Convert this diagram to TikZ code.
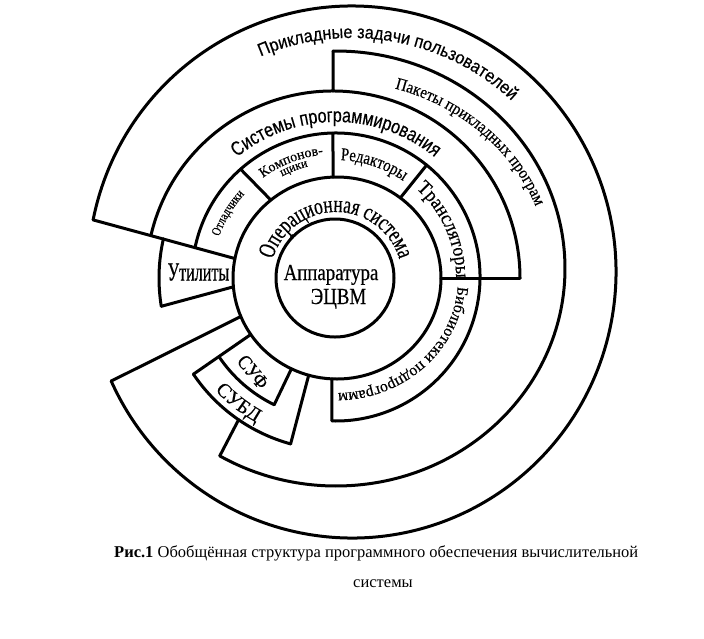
\documentclass[tikz,border=0pt]{standalone}
\usepackage{fontspec}
\setmainfont{Liberation Serif}
\newfontfamily\fsans[FakeStretch=0.9,FakeBold=0.4]{Liberation Sans}
\newfontfamily\fsansc[FakeStretch=0.8,FakeBold=0.4]{Liberation Sans}
\newfontfamily\fserif{Liberation Serif}
\newfontfamily\fserifb[FakeBold=0.4]{Liberation Serif}
\newfontfamily\fserifm[FakeStretch=0.9,FakeBold=0.4]{Liberation Serif}
\newfontfamily\fserifc[FakeStretch=0.82,FakeBold=0.4]{Liberation Serif}
\newfontfamily\fserifo[FakeStretch=0.72,FakeBold=0.4]{Liberation Serif}
\newfontfamily\fserifu[FakeStretch=0.62,FakeBold=0.5]{Liberation Serif}
\newfontfamily\fserifls[LetterSpace=9,FakeBold=0.4]{Liberation Serif}
\newcommand{\fsz}[1]{\fontsize{#1}{#1}\selectfont}
\usetikzlibrary{calc,decorations.text}
\tikzset{
  ring/.style={line width=3pt,line cap=round,line join=round},
  along/.style={decorate,decoration={text along path,text align=center,text={#1}}},
  lbl/.style={inner sep=0pt,anchor=base}
}
\begin{document}
\begin{tikzpicture}[x=1pt,y=-1pt]
\fill[white] (0,0) rectangle (704,638);
\useasboundingbox (0,0) rectangle (704,638);
% centres
\coordinate (C) at (336,278);
\coordinate (Cin) at (335,278);
\coordinate (Cos) at (337,278);
\coordinate (C3) at (336,277);
\coordinate (C4) at (333,278);
\coordinate (C5) at (336,268.5);
\coordinate (C6) at (352,272);
\begin{scope}[ring]
% hardware and OS
\draw (Cin) circle[radius=59];
\draw (Cos) ellipse[x radius=104, y radius=101];
% outermost: application tasks
\draw ($(C6)+(-168.7:264 and 266)$) arc[start angle=-168.7, end angle=155.8, x radius=264, y radius=266];
\draw ($(C6)+(-168.7:264 and 266)$) -- ($(Cos)+(-168.9:104 and 101)$);
\draw ($(C6)+(155.8:264 and 266)$) -- ($(Cos)+(157.6:104 and 101)$);
% programming systems outer
\draw ($(C4)+(-166.8:187)$) arc[start angle=-166.8, end angle=0, radius=187];
% tools ring
\draw ($(C3)+(-168.2:144)$) arc[start angle=-168.2, end angle=91.6, radius=144];
\draw ($(Cos)+(92.8:104 and 101)$) -- ($(C3)+(91.6:144)$);
% application packages outer
\draw ($(C5)+(-90.75:229 and 217.5)$) arc[start angle=-90.75, end angle=120.5, x radius=229, y radius=217.5];
\draw ($(C4)+(-90:187)$) -- ($(C5)+(-90.75:229 and 217.5)$);
% horizontal divider
\draw ($(Cos)+(0:104 and 101)$) -- ($(C4)+(0:187)$);
% tool dividers
\draw ($(Cos)+(-129.5:104 and 101)$) -- ($(C3)+(-131.5:144)$);
\draw ($(Cos)+(-92.2:104 and 101)$) -- ($(C3)+(-91.2:144)$);
\draw ($(Cos)+(-52.5:104 and 101)$) -- ($(C3)+(-51:144)$);
% utilities
\draw ($(C)+(170.8:177)$) arc[start angle=170.8, end angle=192.8, radius=177];
\draw ($(Cos)+(175:104 and 101)$) -- ($(C)+(170.8:177)$);
% DBMS / SUF
\draw ($(Cos)+(146:104 and 101)$) -- ($(C)+(146:172)$);
\draw ($(C)+(146:172)$) arc[start angle=146, end angle=105.3, radius=172];
\draw ($(C)+(105.3:172)$) -- ($(Cos)+(105.8:104 and 101)$);
\draw ($(C)+(146:141)$) arc[start angle=146, end angle=116, radius=141];
\draw ($(C)+(116:141)$) -- ($(Cos)+(116:104 and 101)$);
\draw ($(C)+(124.5:172)$) -- ($(C5)+(120.5:229 and 217.5)$);
\end{scope}
% straight labels
\node[lbl,font=\fserifc\fsz{23}] (app) at (331,280) {Аппаратура};
\node[lbl,font=\fserifc\fsz{23}] (ecvm) at (338.5,304) {ЭЦВМ};
\node[lbl,font=\fserifu\fsz{26}] (util) at (198.5,280.5) {Утилиты};
\node[inner sep=0pt,font=\fserifm\fsz{20},rotate=-51] (suf) at (253,372) {СУФ};
% curved labels
\path[along={|\fsans\fsz{18}|Прикладные задачи пользователей}] ($(C6)+(-125:234)$) arc[start angle=-125, end angle=-35, radius=234];
\path[along={|\fserifm\fsz{17}|Пакеты прикладных програм}] ($(336,277)+(-88:214 and 196)$) arc[start angle=-88, end angle=-6, x radius=214, y radius=196];
\path[along={|\fsansc\fsz{20}|Системы программирования}] ($(C)+(-150:156)$) arc[start angle=-150, end angle=-30, radius=156];
\path[along={|\fserifo\fsz{24}|Операционная система}] ($(C)+(-178:66)$) arc[start angle=-178, end angle=-2, radius=66];
\path[along={|\fserifc\fsz{13}|Отладчики}] ($(C)+(-168:124)$) arc[start angle=-168, end angle=-130, radius=124];
\path[along={|\fserifls\fsz{14}|Компонов-}] ($(C)+(-138:124)$) arc[start angle=-138, end angle=-84, radius=124];
\path[along={|\fserifb\fsz{12}|щики}] ($(C)+(-125:115)$) arc[start angle=-125, end angle=-97, radius=115];
\path[along={|\fserifc\fsz{18}|Редакторы}] ($(C)+(-94:118)$) arc[start angle=-94, end angle=-49, radius=118];
\path[along={|\fserifm\fsz{20}|Трансляторы}] ($(C)+(-54:120)$) arc[start angle=-54, end angle=6, radius=120];
\path[along={|\fserifb\fsz{16}|Библиотеки подпрограмм}] ($(C)+(-1:122 and 115)$) arc[start angle=-1, end angle=94, x radius=122, y radius=115];
\path[along={|\fserifb\fsz{20}|СУБД}] ($(C)+(152:165)$) arc[start angle=152, end angle=104, radius=165];
% caption
\node[inner sep=0pt,anchor=base west,font=\fserif\fsz{16.5}] (cap1) at (114,557.5) {\textbf{Рис.1} Обобщённая структура программного обеспечения вычислительной};
\node[lbl,font=\fserif\fsz{16.5}] (cap2) at (383,587) {системы};
\end{tikzpicture}
\end{document}
